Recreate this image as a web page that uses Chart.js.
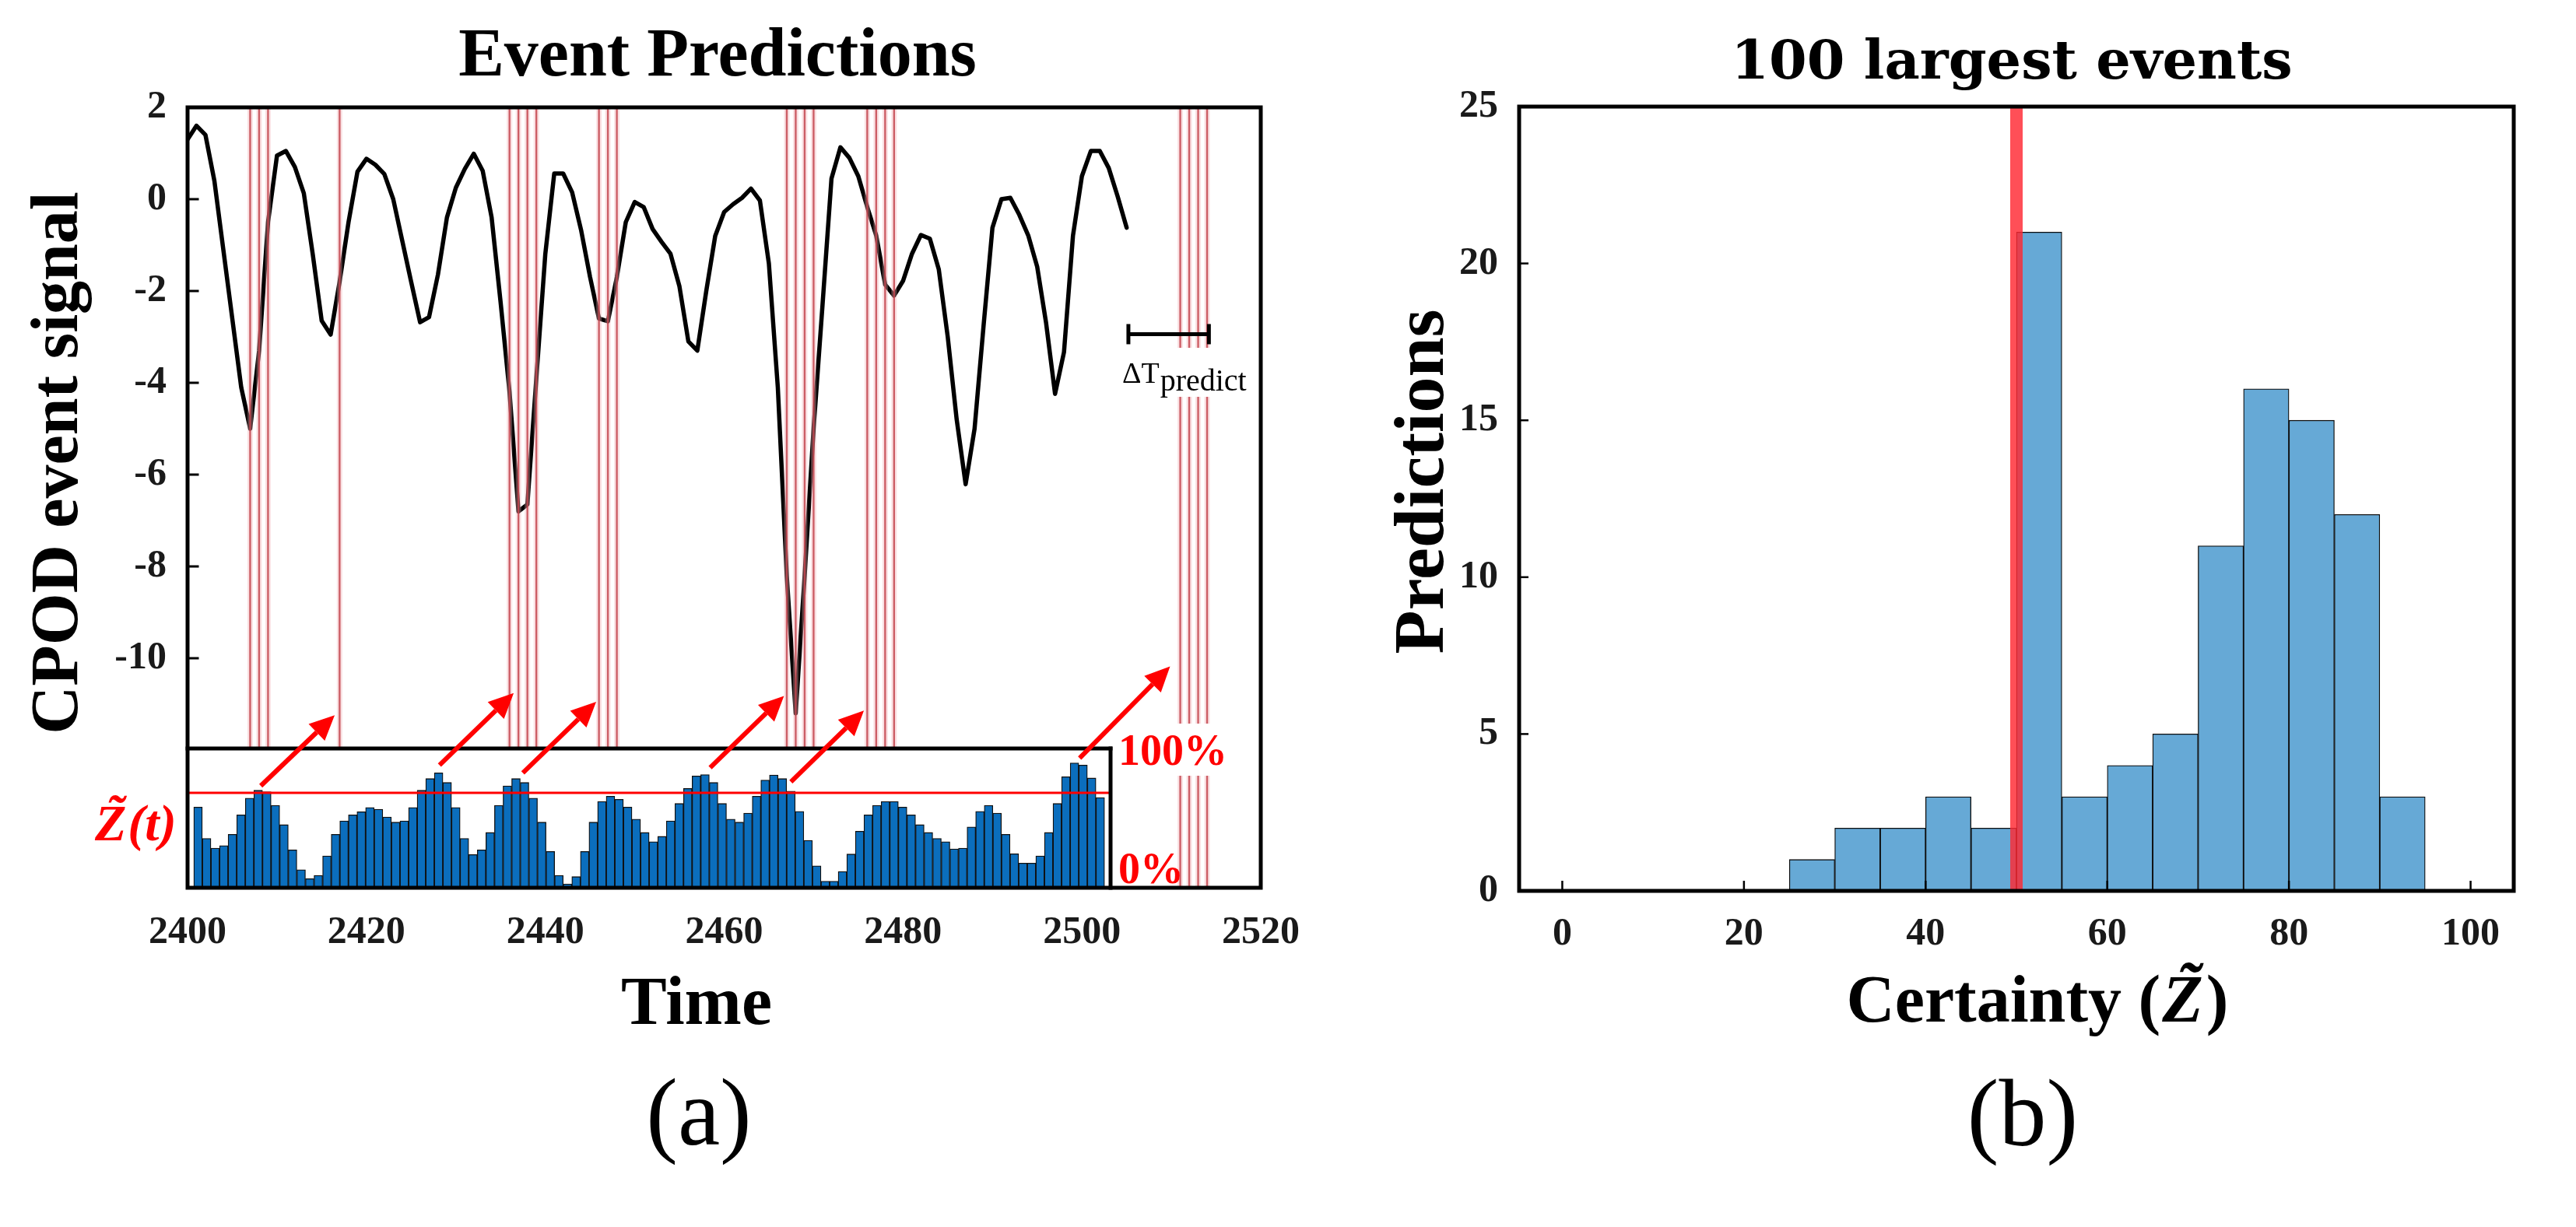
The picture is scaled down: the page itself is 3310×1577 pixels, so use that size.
<!DOCTYPE html>
<html><head><meta charset="utf-8">
<script src="https://cdn.jsdelivr.net/npm/chart.js@4.4.1/dist/chart.umd.min.js"></script>
<style>
html,body{margin:0;padding:0;background:#fff;}
#wrap{position:relative;width:3310px;height:1577px;background:#fff;overflow:hidden;}
canvas{position:absolute;top:0;}
#ca{left:0;} #cb{left:1700px;}
</style></head><body>
<div id="wrap"><canvas id="ca" width="1860" height="1577"></canvas><canvas id="cb" width="1610" height="1577"></canvas></div>
<script>
// ---------- Panel (a) data ----------
const TIME = [2400,2401,2402,2403,2404,2405,2406,2407,2408,2409,2410,2411,2412,2413,2414,2415,2416,2417,2418,2419,
2420,2421,2422,2423,2424,2425,2426,2427,2428,2429,2430,2431,2432,2433,2434,2435,2436,2437,2438,2439,
2440,2441,2442,2443,2444,2445,2446,2447,2448,2449,2450,2451,2452,2453,2454,2455,2456,2457,2458,2459,
2460,2461,2462,2463,2464,2465,2466,2467,2468,2469,2470,2471,2472,2473,2474,2475,2476,2477,2478,2479,
2480,2481,2482,2483,2484,2485,2486,2487,2488,2489,2490,2491,2492,2493,2494,2495,2496,2497,2498,2499,
2500,2501,2502,2503,2504,2505];
const SIGNAL = [1.3,1.6,1.4,0.4,-1.1,-2.6,-4.1,-5.0,-3.3,-0.5,0.95,1.05,0.7,0.13,-1.2,-2.65,-2.95,-1.8,-0.5,0.6,
0.88,0.75,0.55,0.0,-0.9,-1.8,-2.68,-2.57,-1.64,-0.4,0.25,0.66,0.99,0.62,-0.4,-2.24,-4.2,-6.8,-6.65,-3.9,
-1.2,0.56,0.56,0.15,-0.67,-1.69,-2.6,-2.66,-1.7,-0.5,-0.06,-0.17,-0.65,-0.93,-1.19,-1.9,-3.1,-3.3,-2.0,-0.8,
-0.28,-0.11,0.03,0.23,-0.03,-1.4,-4.1,-8.2,-11.2,-8.2,-5.0,-2.3,0.45,1.13,0.9,0.5,-0.17,-0.79,-1.86,-2.1,
-1.78,-1.19,-0.78,-0.86,-1.53,-3.0,-4.8,-6.21,-5.0,-2.77,-0.62,0.0,0.03,-0.34,-0.79,-1.47,-2.7,-4.24,-3.33,-0.8,
0.5,1.05,1.05,0.68,0.06,-0.62];
// certainty Z~(t) in percent, one bar per time step (inset)
const CERTAINTY = [57.9,35.4,28.5,30.3,38.4,52.3,64.4,70.0,68.9,59.2,
45.3,27.2,13.0,6.5,8.9,22.9,38.4,48.0,52.3,54.6,
57.7,56.4,50.8,47.1,48.0,57.7,70.0,78.4,82.5,75.6,
57.7,35.4,23.8,27.2,39.7,59.2,73.2,78.4,75.6,64.4,
47.1,26.1,8.9,2.8,8.0,26.1,47.1,62.0,65.7,63.5,
57.9,49.3,39.7,33.1,36.9,48.0,60.5,71.3,80.3,81.2,
75.6,60.5,49.3,47.1,53.6,65.7,77.3,81.0,78.4,69.4,
54.9,34.1,15.8,4.7,4.7,11.7,24.2,40.6,52.3,59.2,
62.0,62.0,57.9,52.3,45.3,39.7,35.4,33.1,27.9,28.5,
43.7,54.9,59.2,53.6,38.4,24.4,17.7,17.7,22.9,39.7,
60.5,79.7,89.6,88.1,78.8,64.8];
const THRESHOLD_PCT = 68.2;
const EVENT_TIMES = [2407,2408,2409,2417,2436,2437,2438,2439,2446,2447,2448,2467,2468,2469,2470,2476,2477,2478,2479,2511,2512,2513,2514];
const X_TICKS_A = [2400,2420,2440,2460,2480,2500,2520];
const Y_TICKS_A = [2,0,-2,-4,-6,-8,-10];
// arrows: [tail time (inset axis), tail certainty %, tip time, tip signal]
const ARROWS = [[2407.3,73.2,2416.45,-11.24],[2428.1,88.1,2436.47,-10.76],[2437.8,82.5,2445.69,-10.95],
[2459.6,86.2,2466.69,-10.82],[2469.0,76.0,2475.63,-11.14],[2502.6,93.1,2509.86,-10.18]];
const DELTA_T = {from:2505.2, to:2514.2, y:-2.94, cap:0.22};
const INSET_END = 2506.2;

// ---------- Panel (b) data ----------
const BIN_CENTERS = [27.5,32.5,37.5,42.5,47.5,52.5,57.5,62.5,67.5,72.5,77.5,82.5,87.5,92.5];
const BIN_COUNTS  = [1,2,2,3,2,21,3,4,5,11,16,15,12,3];
const X_TICKS_B = [0,20,40,60,80,100];
const Y_TICKS_B = [0,5,10,15,20,25];
const THRESHOLD_B = 50;

const FONT = "'Liberation Serif','Times New Roman',serif";
const FONT2 = "'DejaVu Serif',serif";
const TICKFONT = {family: FONT, size: 50, weight: 'bold'};

function vline(ctx, x, y0, y1, w, c){ctx.strokeStyle=c;ctx.lineWidth=w;ctx.beginPath();ctx.moveTo(x,y0);ctx.lineTo(x,y1);ctx.stroke();}
function hline(ctx, x0, x1, y, w, c){ctx.strokeStyle=c;ctx.lineWidth=w;ctx.beginPath();ctx.moveTo(x0,y);ctx.lineTo(x1,y);ctx.stroke();}
function txt(ctx, s, x, y, font, color, align){ctx.font=font;ctx.fillStyle=color;ctx.textAlign=align||'center';ctx.textBaseline='alphabetic';ctx.fillText(s,x,y);}
function arrow(ctx,x0,y0,x1,y1,w,hl,hw,c){
  const a=Math.atan2(y1-y0,x1-x0), bx=x1-hl*Math.cos(a), by=y1-hl*Math.sin(a);
  ctx.strokeStyle=c;ctx.lineWidth=w;ctx.lineCap='butt';
  ctx.beginPath();ctx.moveTo(x0,y0);ctx.lineTo(bx,by);ctx.stroke();
  ctx.fillStyle=c;ctx.beginPath();ctx.moveTo(x1,y1);
  ctx.lineTo(bx+hw/2*Math.sin(a),by-hw/2*Math.cos(a));
  ctx.lineTo(bx-hw/2*Math.sin(a),by+hw/2*Math.cos(a));ctx.closePath();ctx.fill();
}
function zTilde(ctx, x, base, size, color, weight){
  ctx.font = `${weight} italic ${size}px ${FONT}`; ctx.fillStyle=color; ctx.textAlign='left'; ctx.textBaseline='alphabetic';
  ctx.fillText('Z', x, base);
  const w = ctx.measureText('Z').width;
  ctx.textAlign='center';
  ctx.fillText('\u02DC', x + w/2 + size*0.08, base - size*0.2);
  return w;
}

const panelA = {
  id:'panelA',
  afterDatasetDraw(chart, args){
    if (args.meta.type !== 'line') return;
    const {ctx, chartArea:ca, scales:s} = chart;
    ctx.save();
    ctx.beginPath(); ctx.rect(ca.left, ca.top, ca.width, ca.height); ctx.clip();
    EVENT_TIMES.forEach(t=>{
      const x = s.x.getPixelForValue(t);
      vline(ctx, x, ca.top, ca.bottom, 7, 'rgba(240,170,175,0.35)');
      vline(ctx, x, ca.top, ca.bottom, 2.4, 'rgba(196,72,80,0.85)');
    });
    const xr = s.x2.getPixelForValue(INSET_END), yt = s.y2.getPixelForValue(100);
    ctx.fillStyle='#fff'; ctx.fillRect(ca.left, yt, xr-ca.left, ca.bottom-yt);
    ctx.restore();
  },
  afterDatasetsDraw(chart){
    const {ctx, chartArea:ca, scales:s} = chart;
    ctx.save();
    const xr = s.x2.getPixelForValue(INSET_END), yt = s.y2.getPixelForValue(100);
    hline(ctx, ca.left, xr, s.y2.getPixelForValue(THRESHOLD_PCT), 3, '#ff0000');
    ctx.lineCap='square';
    hline(ctx, ca.left, xr, yt, 5, '#000');
    vline(ctx, xr, yt, ca.bottom, 5, '#000');
    ctx.strokeStyle='#000'; ctx.lineWidth=5; ctx.strokeRect(ca.left, ca.top, ca.width, ca.height);
    Y_TICKS_A.forEach(v=>{const y=s.y.getPixelForValue(v); hline(ctx, ca.left, ca.left+13, y, 3, '#000');});
    const dx0=s.x.getPixelForValue(DELTA_T.from), dx1=s.x.getPixelForValue(DELTA_T.to), dy=s.y.getPixelForValue(DELTA_T.y);
    const dh = s.y.getPixelForValue(DELTA_T.y - DELTA_T.cap) - dy;
    ctx.lineCap='butt';
    hline(ctx, dx0, dx1, dy, 5, '#000');
    vline(ctx, dx0, dy-dh, dy+dh, 5, '#000');
    vline(ctx, dx1, dy-dh, dy+dh, 5, '#000');
    ctx.fillStyle='#fff'; ctx.fillRect(1436, 447, 176, 63);
    ctx.font=`38px ${FONT}`; const wd = ctx.measureText('\u0394T').width;
    txt(ctx, '\u0394T', 1442, 492, `38px ${FONT}`, '#000', 'left');
    txt(ctx, 'predict', 1442+wd+1, 502, `40px ${FONT}`, '#000', 'left');
    ctx.fillStyle='#fff'; ctx.fillRect(1433, 930, 147, 67);
    txt(ctx, '100%', 1437, 983, `bold 56px ${FONT}`, '#ff0000', 'left');
    txt(ctx, '0%', 1437, 1135, `bold 56px ${FONT}`, '#ff0000', 'left');
    ARROWS.forEach(a=>{
      arrow(ctx, s.x2.getPixelForValue(a[0]), s.y2.getPixelForValue(a[1]), s.x.getPixelForValue(a[2]), s.y.getPixelForValue(a[3]), 6, 32, 30, '#ff0000');
    });
    const zw = zTilde(ctx, 122, 1080, 66, '#ff0000', 'bold');
    txt(ctx, '(t)', 122+zw+2, 1080, `bold italic 66px ${FONT}`, '#ff0000', 'left');
    ctx.restore();
  },
  afterDraw(chart){
    const {ctx} = chart;
    ctx.save();
    txt(ctx, 'Event Predictions', 922, 97, `bold 88px ${FONT}`, '#000');
    ctx.save(); ctx.translate(99, 595); ctx.rotate(-Math.PI/2);
    txt(ctx, 'CPOD event signal', 0, 0, `bold 86px ${FONT}`, '#000'); ctx.restore();
    txt(ctx, 'Time', 895, 1316, `bold 88px ${FONT}`, '#000');
    txt(ctx, '(a)', 898, 1471, `122px ${FONT}`, '#000');
    ctx.restore();
  }
};

const panelB = {
  id:'panelB',
  afterDatasetsDraw(chart){
    const {ctx, chartArea:ca, scales:s} = chart;
    ctx.save();
    vline(ctx, s.x.getPixelForValue(THRESHOLD_B), ca.top, ca.bottom, 16, 'rgba(255,40,50,0.82)');
    ctx.lineCap='butt';
    X_TICKS_B.forEach(v=>{const x=s.x.getPixelForValue(v); vline(ctx, x, ca.bottom, ca.bottom-13, 2.5, '#000');});
    Y_TICKS_B.forEach(v=>{const y=s.y.getPixelForValue(v); hline(ctx, ca.left, ca.left+12, y, 2.5, '#000');});
    ctx.strokeStyle='#000'; ctx.lineWidth=5; ctx.strokeRect(ca.left, ca.top, ca.width, ca.height);
    ctx.restore();
  },
  afterDraw(chart){
    const {ctx} = chart;
    ctx.save();
    txt(ctx, '100 largest events', 885, 101, `bold 70px ${FONT2}`, '#000');
    ctx.save(); ctx.translate(154, 619); ctx.rotate(-Math.PI/2);
    txt(ctx, 'Predictions', 0, 0, `bold 92px ${FONT}`, '#000'); ctx.restore();
    const f = `bold 86px ${FONT}`;
    ctx.font=f; const w1=ctx.measureText('Certainty (').width, w3=ctx.measureText(')').width;
    ctx.font=`bold italic 86px ${FONT}`; const w2=ctx.measureText('Z').width;
    const x0 = 918 - (w1+w2+w3+6)/2;
    txt(ctx, 'Certainty (', x0, 1313, f, '#000', 'left');
    zTilde(ctx, x0+w1+2, 1313, 86, '#000', 'bold');
    txt(ctx, ')', x0+w1+w2+6, 1313, f, '#000', 'left');
    txt(ctx, '(b)', 899, 1472, `122px ${FONT}`, '#000');
    ctx.restore();
  }
};

new Chart(document.getElementById('ca'), {
  type:'bar',
  data:{datasets:[
    {type:'line', label:'CPOD event signal', data:TIME.map((t,i)=>({x:t,y:SIGNAL[i]})), xAxisID:'x', yAxisID:'y',
     borderColor:'#000', borderWidth:5.5, pointRadius:0, tension:0, fill:false, borderJoinStyle:'round', borderCapStyle:'round', order:2},
    {type:'bar', label:'Certainty', data:TIME.map((t,i)=>({x:t,y:CERTAINTY[i]})), xAxisID:'x2', yAxisID:'y2',
     backgroundColor:'#0B6EBD', borderColor:'#101010', borderWidth:1.3, barPercentage:1, categoryPercentage:1,
     grouped:false, order:1}
  ]},
  options:{
    responsive:false, animation:false, devicePixelRatio:1, events:[],
    layout:{padding:{left:0,right:240,top:138,bottom:336}},
    plugins:{legend:{display:false}, tooltip:{enabled:false}, title:{display:false}},
    scales:{
      x:{type:'linear', position:'bottom', min:2400, max:2520, offset:false, grid:{display:false}, border:{display:false},
         afterBuildTicks:sc=>{sc.ticks=X_TICKS_A.map(v=>({value:v}));}, afterFit:sc=>{sc.height=100;},
         ticks:{autoSkip:false, maxRotation:0, padding:20, color:'#1a1a1a', font:TICKFONT, callback:v=>String(v)}},
      y:{type:'linear', position:'left', min:-15, max:2, grid:{display:false}, border:{display:false},
         afterBuildTicks:sc=>{sc.ticks=Y_TICKS_A.map(v=>({value:v}));}, afterFit:sc=>{sc.width=241;},
         ticks:{padding:19, color:'#1a1a1a', font:TICKFONT, callback:v=>String(v)}},
      x2:{type:'linear', display:false, min:2398.78, max:2523.68, offset:false, afterBuildTicks:sc=>{sc.ticks=[{value:2400}];}},
      y2:{type:'linear', display:false, min:0, max:560.3}
    }
  },
  plugins:[panelA]
});

new Chart(document.getElementById('cb'), {
  type:'bar',
  data:{datasets:[{label:'Predictions', data:BIN_CENTERS.map((c,i)=>({x:c,y:BIN_COUNTS[i]})),
    backgroundColor:'#66A9D6', borderColor:'#0d0d0d', borderWidth:1.3, barThickness:'flex', barPercentage:1, categoryPercentage:1}]},
  options:{
    responsive:false, animation:false, devicePixelRatio:1, events:[],
    layout:{padding:{left:0,right:80,top:137,bottom:332}},
    plugins:{legend:{display:false}, tooltip:{enabled:false}, title:{display:false}},
    scales:{
      x:{type:'linear', position:'bottom', min:-4.75, max:104.75, offset:false, grid:{display:false}, border:{display:false},
         afterBuildTicks:sc=>{sc.ticks=X_TICKS_B.map(v=>({value:v}));}, afterFit:sc=>{sc.height=100;},
         ticks:{autoSkip:false, maxRotation:0, padding:18, color:'#1a1a1a', font:TICKFONT, callback:v=>String(v)}},
      y:{type:'linear', position:'left', min:0, max:25, grid:{display:false}, border:{display:false},
         afterBuildTicks:sc=>{sc.ticks=Y_TICKS_B.map(v=>({value:v}));}, afterFit:sc=>{sc.width=252;},
         ticks:{padding:19, color:'#1a1a1a', font:TICKFONT, callback:v=>String(v)}}
    }
  },
  plugins:[panelB]
});
</script>
</body></html>
